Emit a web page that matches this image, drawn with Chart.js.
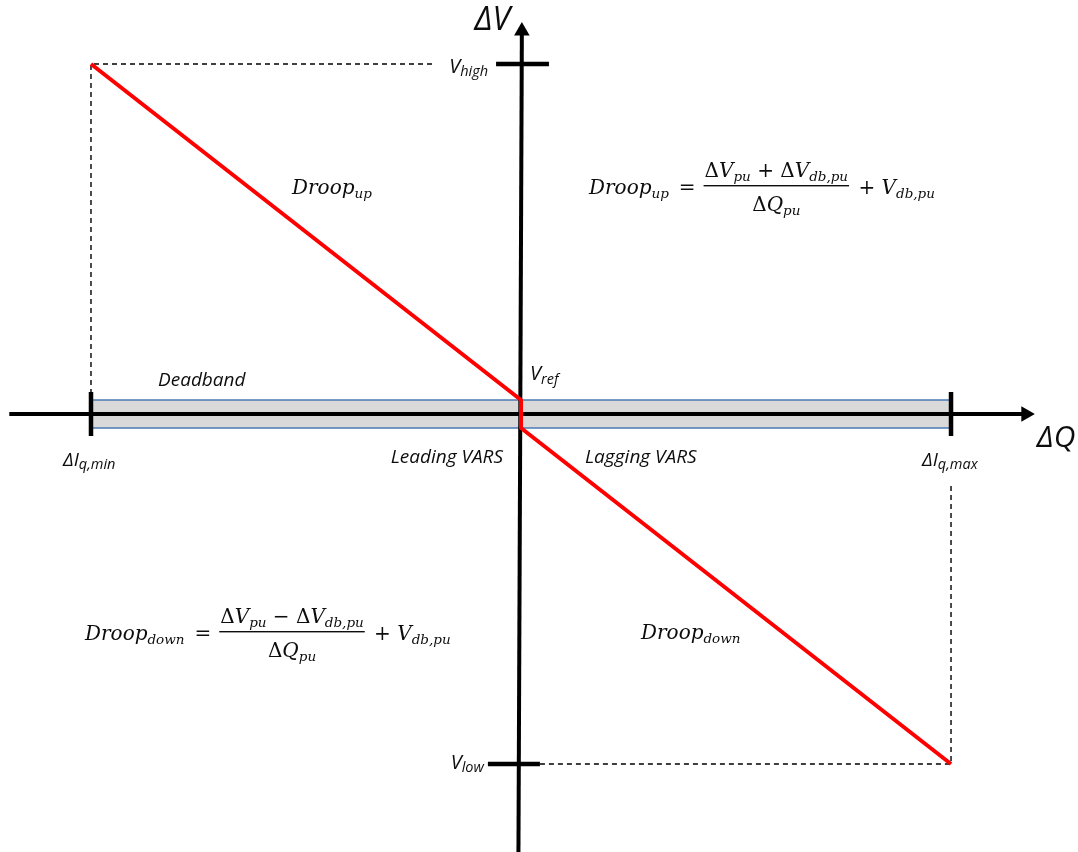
<!DOCTYPE html>
<html>
<head>
<meta charset="utf-8">
<script src="https://cdn.jsdelivr.net/npm/chart.js@4.4.1/dist/chart.umd.min.js"></script>
<style>
    html, body { margin: 0; padding: 0; background: #fff; }
</style>
</head>
<body>
<canvas id="myChart" width="1078" height="852"></canvas>
<script>
// ΔQ in per unit of the current limit, ΔV in per unit of Vhigh
const qLimits = [-1, 1];              // ΔIq,min , ΔIq,max
const vLimits = [1, -1];              // Vhigh , Vlow
const deadband = [0.04, -0.04];       // upper / lower edge of the deadband
const droopQ = [-1, 0, 0, 1];
const droopV = [1, 0.04, -0.04, -1];
const qAxis = [-1.19, 1.174];         // ΔQ axis, arrow at the end
const vAxisQ = [-0.006, 0.002];       // the ΔV axis leans a little
const vAxis = [-1.27, 1.094];
const limitMark = [0.063, -0.063];    // ΔIq marks across the ΔQ axis
const vHighMark = [-0.058, 0.065];
const vLowMark = [-0.077, 0.044];
const guideTop = [-0.207, -1];        // dashed guide from Vhigh
const guideBottom = [0.044, 1];       // dashed guide to Vlow
const guideBottomEnd = -0.197;

const pts = (xs, ys) => xs.map((v, i) => ({x: v, y: ys[i]}));

const black = '#000000';
const solid = (data, w) => ({
    data: data, borderColor: black, borderWidth: w, pointRadius: 0, clip: false
});

const axisQ = solid(pts(qAxis, [0, 0]), 4);
axisQ.pointRadius = [0, 9];
axisQ.pointStyle = 'triangle';
axisQ.pointRotation = 90;
axisQ.pointBackgroundColor = black;
axisQ.pointBorderWidth = 0;

const axisV = solid(pts(vAxisQ, vAxis), 4);
axisV.pointRadius = [0, 9];
axisV.pointStyle = 'triangle';
axisV.pointBackgroundColor = black;
axisV.pointBorderWidth = 0;

const dashed = (data) => ({
    data: data, borderColor: black, borderWidth: 1.4, borderDash: [5, 4],
    pointRadius: 0, clip: false
});

const datasets = [
    // first in the list is drawn on top
    { data: pts(droopQ, droopV), borderColor: '#ff0000', borderWidth: 4,
      pointRadius: 0, borderJoinStyle: 'round', clip: false },
    axisV,
    solid(pts(vHighMark, [vLimits[0], vLimits[0]]), 4.5),
    solid(pts(vLowMark, [vLimits[1], vLimits[1]]), 4.5),
    solid(pts([qLimits[0], qLimits[0]], limitMark), 4.5),
    solid(pts([qLimits[1], qLimits[1]], limitMark), 4.5),
    axisQ,
    dashed(pts([guideTop[0], guideTop[1], qLimits[0]], [vLimits[0], vLimits[0], deadband[0]])),
    dashed(pts([guideBottom[0], guideBottom[1], qLimits[1]], [vLimits[1], vLimits[1], guideBottomEnd])),
    { data: pts(qLimits, [deadband[0], deadband[0]]), borderColor: '#4a7ab4', borderWidth: 1.5,
      backgroundColor: '#d9d9d9', fill: '+1', pointRadius: 0, clip: false },
    { data: pts(qLimits, [deadband[1], deadband[1]]), borderColor: '#4a7ab4', borderWidth: 1.5,
      pointRadius: 0, clip: false }
];

const sans = "'Open Sans', 'Liberation Sans', sans-serif";
const serif = "'DejaVu Serif', serif";

function drawRuns(ctx, parts, x, y, align) {
    let w = 0;
    parts.forEach(p => { ctx.font = p[1]; w += ctx.measureText(p[0]).width; });
    if (align === 'right') x -= w;
    if (align === 'center') x -= w / 2;
    parts.forEach(p => {
        ctx.font = p[1];
        ctx.fillText(p[0], x, y + (p[2] || 0));
        x += ctx.measureText(p[0]).width;
    });
    return w;
}

function formula(ctx, x0, base, sub, op) {
    const mi = 'italic 20px ' + serif;
    const up = '20px ' + serif;
    const sb = 'italic 13.5px ' + serif;
    let x = x0;
    x += drawRuns(ctx, [['Droop', mi], [sub, sb, 4]], x, base);
    x += 10;
    x += drawRuns(ctx, [['=', up]], x, base);
    x += 8;
    const num = [['Δ', up], ['V', mi], ['pu', sb, 4], [' ' + op + ' ', up],
                 ['Δ', up], ['V', mi], ['db,pu', sb, 4]];
    const den = [['Δ', up], ['Q', mi], ['pu', sb, 4]];
    let wn = 0, wd = 0;
    num.forEach(p => { ctx.font = p[1]; wn += ctx.measureText(p[0]).width; });
    den.forEach(p => { ctx.font = p[1]; wd += ctx.measureText(p[0]).width; });
    const wb = Math.max(wn, wd) + 2;
    drawRuns(ctx, num, x + wb / 2, base - 17, 'center');
    drawRuns(ctx, den, x + wb / 2, base + 17, 'center');
    ctx.fillRect(x, base - 9, wb, 1.4);
    x += wb + 3;
    drawRuns(ctx, [[' + ', up], ['V', mi], ['db,pu', sb, 4]], x, base);
}

const labelsPlugin = {
    id: 'labels',
    afterDatasetsDraw(chart) {
        const {ctx, scales: {x, y}} = chart;
        const cx = x.getPixelForValue(0);
        const cy = y.getPixelForValue(0);
        const yHigh = y.getPixelForValue(vLimits[0]);
        const yLow = y.getPixelForValue(vLimits[1]);
        const xMin = x.getPixelForValue(qLimits[0]);
        const xMax = x.getPixelForValue(qLimits[1]);
        ctx.save();
        ctx.fillStyle = '#0d0d0d';
        ctx.textBaseline = 'alphabetic';

        const it = s => 'italic ' + s + 'px ' + sans;
        drawRuns(ctx, [['ΔV', it(32)]], cx - 11, 30, 'right');
        drawRuns(ctx, [['ΔQ', it(30)]], x.getPixelForValue(qAxis[1]) + 11, cy + 33);

        drawRuns(ctx, [['V', it(20)], ['high', it(14.5), 3]], x.getPixelForValue(vHighMark[0]) - 8, yHigh + 9, 'right');
        drawRuns(ctx, [['V', it(20)], ['low', it(14.5), 3]], x.getPixelForValue(vLowMark[0]) - 4, yLow + 5, 'right');
        drawRuns(ctx, [['V', it(20)], ['ref', it(14.5), 4]], cx + 9, cy - 34);

        drawRuns(ctx, [['Deadband', it(19)]], xMin + 67, cy - 28);
        drawRuns(ctx, [['Leading VARS', it(19)]], cx - 18, cy + 49, 'right');
        drawRuns(ctx, [['Lagging VARS', it(19)]], cx + 64, cy + 49);

        drawRuns(ctx, [['ΔI', it(19)], ['q,min', it(14.5), 3]], xMin - 28, cy + 52);
        drawRuns(ctx, [['ΔI', it(19)], ['q,max', it(14.5), 3]], xMax - 29, cy + 52);

        const mi = 'italic 20px ' + serif;
        const sb = 'italic 13.5px ' + serif;
        drawRuns(ctx, [['Droop', mi], ['up', sb, 4]], 292, 194);
        drawRuns(ctx, [['Droop', mi], ['down', sb, 4]], 641, 639);

        formula(ctx, 589, 194, 'up', '+');
        formula(ctx, 85, 640, 'down', '−');
        ctx.restore();
    }
};

new Chart(document.getElementById('myChart'), {
    type: 'scatter',
    data: { datasets: datasets.map(d => Object.assign({ showLine: true }, d)) },
    options: {
        responsive: false,
        animation: false,
        events: [],
        layout: { autoPadding: false, padding: 0 },
        scales: {
            x: { type: 'linear', min: -1.2116, max: 1.2953, display: false },
            y: { type: 'linear', min: -1.2514, max: 1.1829, display: false }
        },
        plugins: {
            legend: { display: false },
            tooltip: { enabled: false },
            filler: { drawTime: 'beforeDatasetsDraw' }
        }
    },
    plugins: [labelsPlugin]
});
</script>
</body>
</html>
